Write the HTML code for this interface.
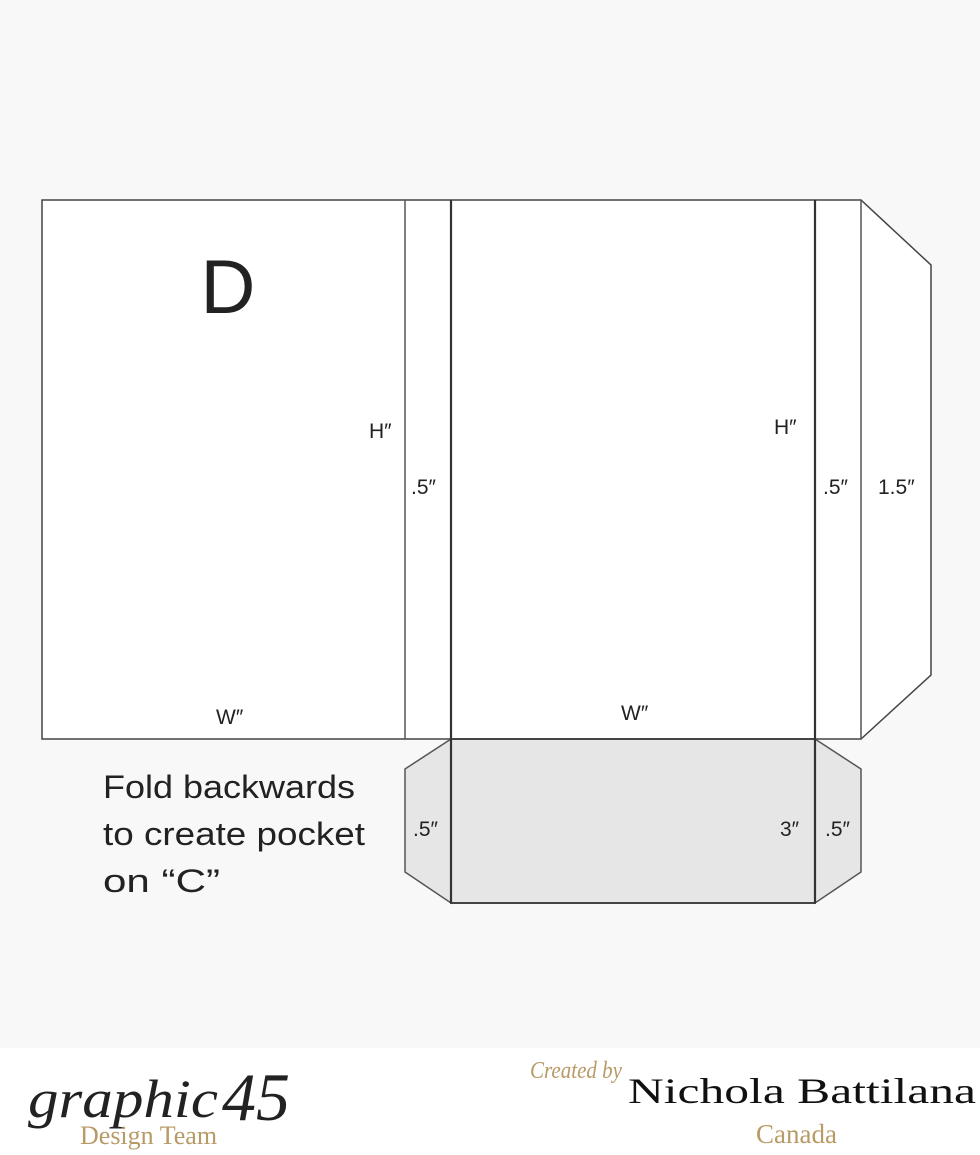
<!DOCTYPE html>
<html><head><style>
html,body{margin:0;padding:0;width:980px;height:1155px;overflow:hidden;background:#fff}
</style></head><body>
<svg width="980" height="1155" viewBox="0 0 980 1155" xmlns="http://www.w3.org/2000/svg" font-family="Liberation Sans, sans-serif">
<rect x="0" y="0" width="980" height="1048" fill="#f8f8f8"/>
<rect x="0" y="1048" width="980" height="107" fill="#fff"/>
<polygon points="42,200 861,200 931,265 931,675 861,739 42,739" fill="#fff" stroke="#444" stroke-width="1.5"/>
<line x1="405" y1="200" x2="405" y2="739" stroke="#555" stroke-width="1.5"/>
<line x1="861" y1="200" x2="861" y2="739" stroke="#555" stroke-width="1.5"/>
<polygon points="451,739 405,769 405,872 451,903" fill="#e6e6e6" stroke="#555" stroke-width="1.5"/>
<polygon points="815,739 861,769 861,872 815,903" fill="#e6e6e6" stroke="#555" stroke-width="1.5"/>
<rect x="451" y="739" width="364" height="164" fill="#e6e6e6" stroke="#444" stroke-width="2"/>
<line x1="451" y1="200" x2="451" y2="903" stroke="#333" stroke-width="2.2"/>
<line x1="815" y1="200" x2="815" y2="903" stroke="#333" stroke-width="2.2"/>
<text x="228" y="313" font-size="76" text-anchor="middle" fill="#222">D</text>
<g font-size="21" fill="#222">
<text x="369" y="438">H″</text>
<text x="774" y="434">H″</text>
<text x="411" y="494">.5″</text>
<text x="823" y="494">.5″</text>
<text x="878" y="494">1.5″</text>
<text x="216" y="724">W″</text>
<text x="621" y="720">W″</text>
<text x="413" y="836">.5″</text>
<text x="780" y="836">3″</text>
<text x="825" y="836">.5″</text>
</g>
<g font-size="32" fill="#222">
<text x="103" y="798" textLength="252" lengthAdjust="spacingAndGlyphs">Fold backwards</text>
<text x="103" y="845" textLength="262" lengthAdjust="spacingAndGlyphs">to create pocket</text>
<text x="103" y="892" textLength="117" lengthAdjust="spacingAndGlyphs">on “C”</text>
</g>
<text x="28" y="1117" font-family="Liberation Serif, serif" font-style="italic" font-size="54" fill="#222" textLength="190" lengthAdjust="spacingAndGlyphs">graphic</text>
<text x="222" y="1120" font-family="Liberation Serif, serif" font-style="italic" font-size="68" fill="#222">45</text>
<text x="80" y="1144" font-family="Liberation Serif, serif" font-size="26" fill="#b89a66">Design Team</text>
<text x="530" y="1078" font-family="Liberation Serif, serif" font-style="italic" font-size="24" fill="#b89a66" textLength="92" lengthAdjust="spacingAndGlyphs">Created by</text>
<text x="628" y="1103" font-family="Liberation Serif, serif" font-size="36" fill="#111" textLength="348" lengthAdjust="spacingAndGlyphs">Nichola Battilana</text>
<text x="756" y="1143" font-family="Liberation Serif, serif" font-size="27" fill="#b89a66">Canada</text>
</svg>
</body></html>
